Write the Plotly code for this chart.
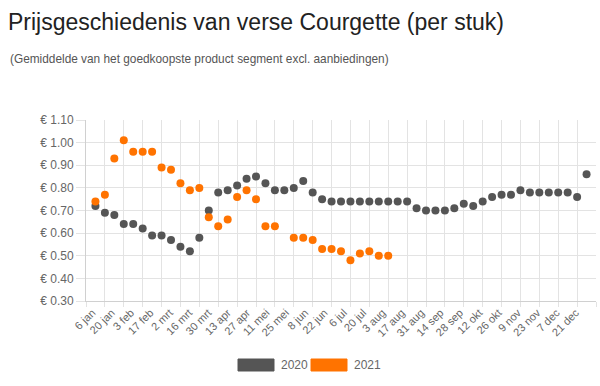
import plotly.graph_objects as go

# ---- data ----
week_index = list(range(1, 54))
tick_labels = ["6 jan", "20 jan", "3 feb", "17 feb", "2 mrt", "16 mrt", "30 mrt", "13 apr",
               "27 apr", "11 mei", "25 mei", "8 jun", "22 jun", "6 jul", "20 jul", "3 aug",
               "17 aug", "31 aug", "14 sep", "28 sep", "12 okt", "26 okt", "9 nov", "23 nov",
               "7 dec", "21 dec"]
prices_2020 = [0.72, 0.69, 0.68, 0.64, 0.64, 0.62, 0.59, 0.59, 0.57, 0.54,
               0.52, 0.58, 0.70, 0.78, 0.79, 0.81, 0.84, 0.85, 0.82, 0.79,
               0.79, 0.80, 0.83, 0.78, 0.75, 0.74, 0.74, 0.74, 0.74, 0.74,
               0.74, 0.74, 0.74, 0.74, 0.71, 0.70, 0.70, 0.70, 0.71, 0.73,
               0.72, 0.74, 0.76, 0.77, 0.77, 0.79, 0.78, 0.78, 0.78, 0.78,
               0.78, 0.76, 0.86]
prices_2021 = [0.74, 0.77, 0.93, 1.01, 0.96, 0.96, 0.96, 0.89, 0.88, 0.82,
               0.79, 0.80, 0.67, 0.63, 0.66, 0.76, 0.79, 0.75, 0.63, 0.63,
               None, 0.58, 0.58, 0.57, 0.53, 0.53, 0.52, 0.48, 0.51, 0.52,
               0.50, 0.50]
y_ticks = [0.30, 0.40, 0.50, 0.60, 0.70, 0.80, 0.90, 1.00, 1.10]

GRAY = "#555555"
ORANGE = "#ff7300"
GRID = "#e3e3e3"
FONT = "Liberation Sans, Arial, sans-serif"

fig = go.Figure()
fig.add_trace(go.Scatter(x=week_index, y=prices_2020, mode="markers", name="2020",
                         marker=dict(color=GRAY, size=8), showlegend=False))
fig.add_trace(go.Scatter(x=week_index[:len(prices_2021)], y=prices_2021, mode="markers",
                         name="2021", marker=dict(color=ORANGE, size=8), showlegend=False))

L, R, T, B = 86, 4, 120, 85
W, H = 600, 386
pw = W - L - R
ph = H - T - B

def px_x(p):
    return (p - L) / pw

def px_y(p):
    return (H - B - p) / ph

# label anchor positions along the week axis (slightly wider spread, as in the original)
label_pos = [0.67 + 2.048 * i for i in range(len(tick_labels))]

fig.update_layout(
    width=W, height=H,
    margin=dict(l=L, r=R, t=T, b=B),
    paper_bgcolor="white", plot_bgcolor="white",
    font=dict(family=FONT, color="#666666"),
    title=dict(text="Prijsgeschiedenis van verse Courgette (per stuk)",
               font=dict(size=23, color="#222222", family=FONT),
               xref="container", yref="container", x=8 / W, xanchor="left",
               y=1 - 22 / H, yanchor="middle"),
    xaxis=dict(range=[0, 54], tickmode="array",
               tickvals=label_pos,
               ticktext=tick_labels, tickangle=-45, showgrid=False,
               ticks="", ticklen=0, zeroline=False,
               tickfont=dict(size=11, color="#666666"),
               showline=True, linecolor="#d0d0d0", linewidth=1,
               minor=dict(tickmode="array", tickvals=list(range(0, 55, 2)),
                          showgrid=True, gridcolor=GRID, gridwidth=1,
                          ticks="outside", ticklen=5, tickcolor=GRID)),
    yaxis=dict(range=[0.30, 1.10], tickmode="array", tickvals=y_ticks,
               ticktext=["€ %.2f" % v for v in y_ticks],
               showgrid=True, gridcolor=GRID, gridwidth=1, zeroline=False,
               ticks="outside", ticklen=9, tickcolor=GRID,
               tickfont=dict(size=12, color="#666666"),
               showline=True, linecolor="#d0d0d0", linewidth=1),
    showlegend=False,
)

fig.add_annotation(text="(Gemiddelde van het goedkoopste product segment excl. aanbiedingen)",
                   xref="paper", yref="paper", x=px_x(8), y=px_y(59),
                   xanchor="left", yanchor="middle", showarrow=False,
                   font=dict(size=11.85, color="#555555", family=FONT))

# legend (manual, Chart.js style boxes)
legend_items = [("2020", GRAY, 238), ("2021", ORANGE, 311)]
for label, color, x0 in legend_items:
    fig.add_shape(type="rect", xref="paper", yref="paper",
                  x0=px_x(x0), x1=px_x(x0 + 36), y0=px_y(359), y1=px_y(371),
                  fillcolor=color, line=dict(color=color, width=1))
    fig.add_annotation(text=label, xref="paper", yref="paper",
                       x=px_x(x0 + 41), y=px_y(365), xanchor="left", yanchor="middle",
                       showarrow=False, font=dict(size=12, color="#666666", family=FONT))

fig.write_html("out.html", config={"displayModeBar": False},
               post_script="document.body.style.margin='0';")
